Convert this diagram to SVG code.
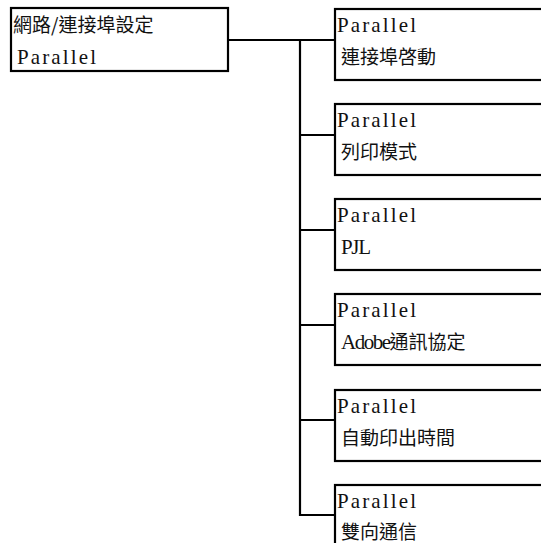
<svg xmlns="http://www.w3.org/2000/svg" width="541" height="543" viewBox="0 0 541 543">
<style>
.box{fill:#fff;stroke:#000;stroke-width:2.2}
.con{fill:none;stroke:#000;stroke-width:2.2}
text{font-family:"Liberation Serif","Noto Sans CJK TC",serif;font-size:21px;fill:#111}
.cjk{font-family:"Noto Sans CJK TC",sans-serif;font-size:19px}
</style>
<g id="connectors">
<path class="con" d="M228,40 H335 M300,40 V515 H335 M300,135 H335 M300,230 H335 M300,325 H335 M300,420 H335"/>
</g>
<g id="root">
<rect class="box" x="11" y="8" width="217" height="63"/>
<text class="cjk" x="13" y="32">網路/連接埠設定</text>
<text x="17" y="64" textLength="79" lengthAdjust="spacing">Parallel</text>
</g>
<g id="n1">
<rect class="box" x="335" y="9" width="220" height="71"/>
<text x="337" y="32" textLength="79" lengthAdjust="spacing">Parallel</text>
<text class="cjk" x="341" y="64">連接埠啓動</text>
</g>
<g id="n2">
<rect class="box" x="335" y="104" width="220" height="71"/>
<text x="337" y="127" textLength="79" lengthAdjust="spacing">Parallel</text>
<text class="cjk" x="341" y="159">列印模式</text>
</g>
<g id="n3">
<rect class="box" x="335" y="199" width="220" height="71"/>
<text x="337" y="222" textLength="79" lengthAdjust="spacing">Parallel</text>
<text x="341" y="254" textLength="30" lengthAdjust="spacing">PJL</text>
</g>
<g id="n4">
<rect class="box" x="335" y="294" width="220" height="71"/>
<text x="337" y="317" textLength="79" lengthAdjust="spacing">Parallel</text>
<text x="341" y="349"><tspan textLength="50" lengthAdjust="spacing">Adobe</tspan><tspan class="cjk">通訊協定</tspan></text>
</g>
<g id="n5">
<rect class="box" x="335" y="390" width="220" height="71"/>
<text x="337" y="413" textLength="79" lengthAdjust="spacing">Parallel</text>
<text class="cjk" x="341" y="445">自動印出時間</text>
</g>
<g id="n6">
<rect class="box" x="335" y="485" width="220" height="71"/>
<text x="337" y="508" textLength="79" lengthAdjust="spacing">Parallel</text>
<text class="cjk" x="341" y="539">雙向通信</text>
</g>
</svg>
